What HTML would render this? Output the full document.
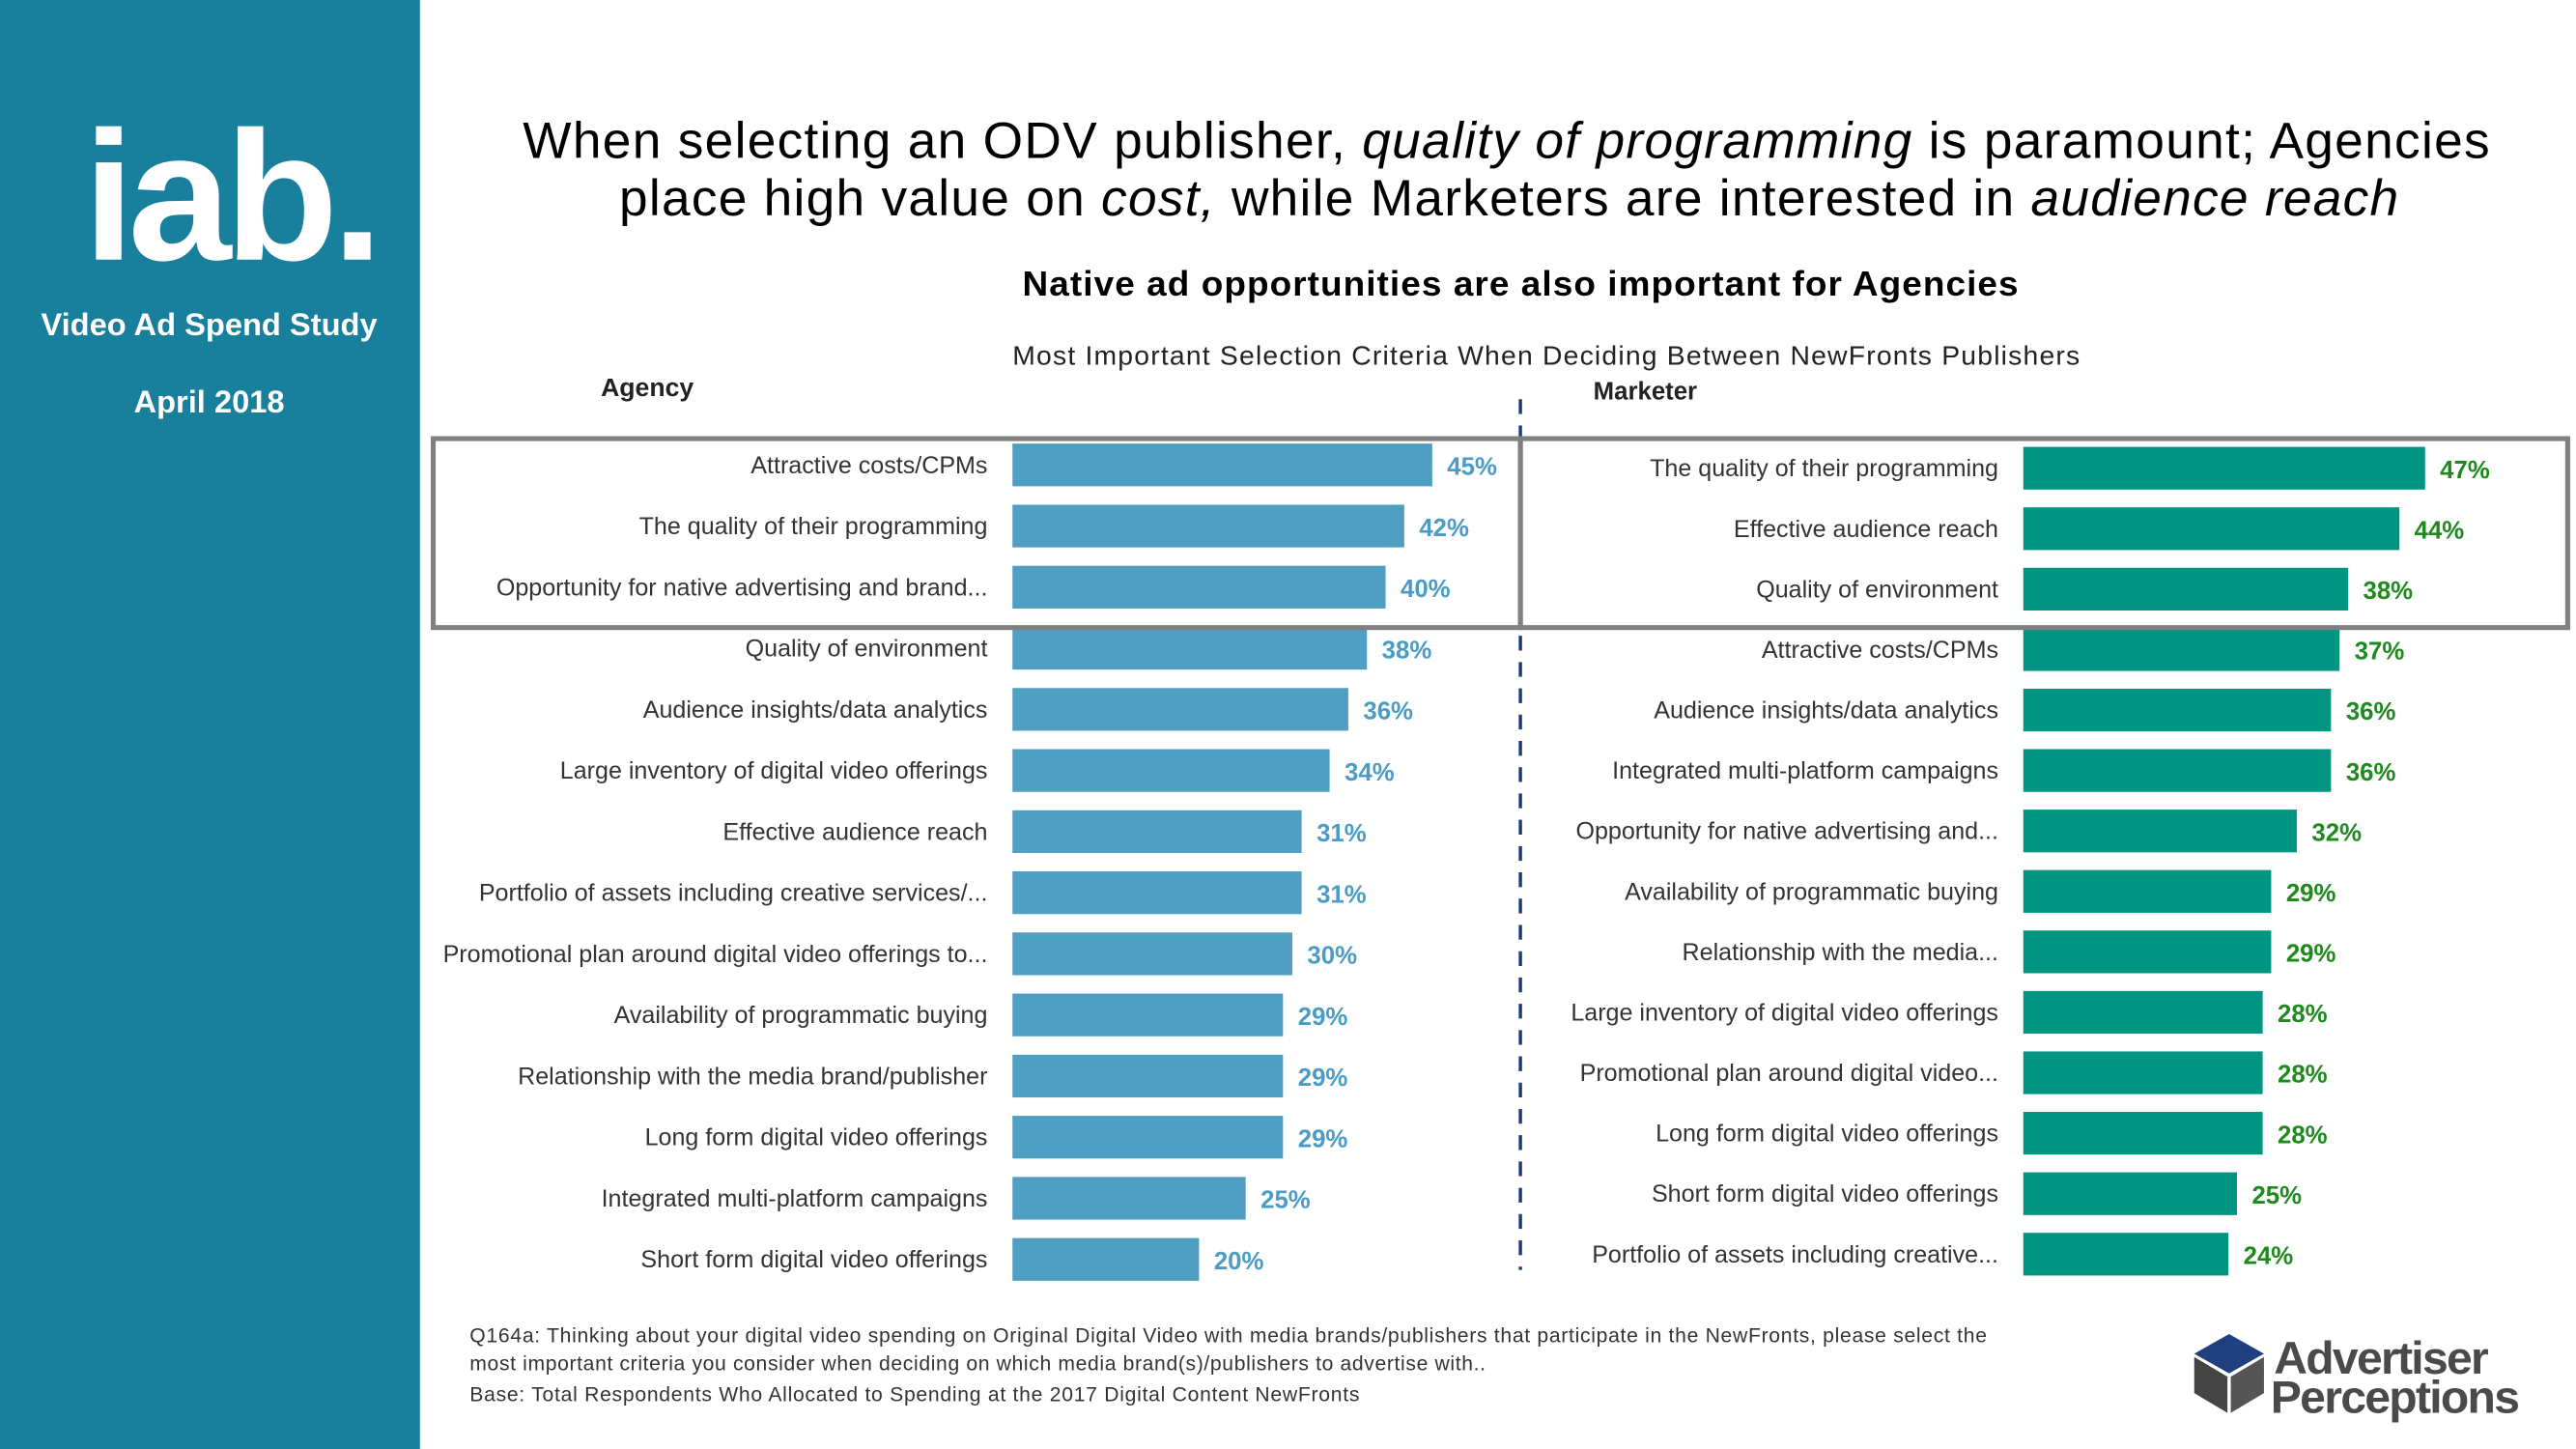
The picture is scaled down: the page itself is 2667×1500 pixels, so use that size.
<!DOCTYPE html>
<html><head><meta charset="utf-8"><style>
html,body{margin:0;padding:0;background:#fff;}
svg{display:block;font-family:"Liberation Sans",Arial,sans-serif;}
</style></head><body>
<svg id="chart" width="2667" height="1500" viewBox="0 0 1552 882" preserveAspectRatio="none" xmlns="http://www.w3.org/2000/svg">
<rect x="0" y="0" width="253" height="882" fill="#187f9c"/>
<text x="50" y="158" font-size="112" font-weight="bold" fill="#fff" letter-spacing="-4">iab.</text>
<text x="126" y="204" font-size="19" font-weight="bold" fill="#fff" text-anchor="middle">Video Ad Spend Study</text>
<text x="126" y="251" font-size="19" font-weight="bold" fill="#fff" text-anchor="middle">April 2018</text>
<text x="315" y="96" font-size="31" fill="#000" textLength="1185">When selecting an ODV publisher, <tspan font-style="italic">quality of programming</tspan> is paramount; Agencies</text>
<text x="373" y="131" font-size="31" fill="#000" textLength="1072">place high value on <tspan font-style="italic">cost,</tspan> while Marketers are interested in <tspan font-style="italic">audience reach</tspan></text>
<text x="616" y="180" font-size="21.5" font-weight="bold" fill="#000" textLength="600">Native ad opportunities are also important for Agencies</text>
<text x="610" y="222" font-size="16.5" fill="#222" textLength="643">Most Important Selection Criteria When Deciding Between NewFronts Publishers</text>
<text x="362" y="241" font-size="15.5" font-weight="bold" fill="#222">Agency</text>
<text x="960" y="243" font-size="15" font-weight="bold" fill="#222">Marketer</text>
<line x1="916" y1="243" x2="916" y2="773" stroke="#1f3a7a" stroke-width="2" stroke-dasharray="9,7"/>
<g id="bars"></g>
<rect x="261" y="267" width="655" height="115" fill="none" stroke="#808080" stroke-width="3"/>
<rect x="916" y="267" width="631" height="115" fill="none" stroke="#808080" stroke-width="3"/>
<text x="283" y="817" font-size="12.3" fill="#333" textLength="914">Q164a:  Thinking about your digital video spending on Original Digital Video with media brands/publishers that participate in the NewFronts, please select the</text>
<text x="283" y="834" font-size="12.3" fill="#333" textLength="612">most important criteria you consider when deciding on which media brand(s)/publishers to advertise with..</text>
<text x="283" y="853" font-size="12.3" fill="#333" textLength="536">Base: Total Respondents Who Allocated to Spending at the 2017 Digital Content NewFronts</text>
<g>
<polygon points="1343,812 1364,824 1343,836 1322,824" fill="#1f3f7f"/>
<polygon points="1322,826 1342,838 1342,860 1322,848" fill="#444"/>
<polygon points="1364,826 1344,838 1344,860 1364,848" fill="#555"/>
<text x="1370" y="836" font-size="28" font-weight="bold" fill="#4a4a4a" letter-spacing="-1">Advertiser</text>
<text x="1368" y="860" font-size="28" font-weight="bold" fill="#4a4a4a" letter-spacing="-1">Perceptions</text>
</g>
</svg>
<script>
const agencyCats = ["Attractive costs/CPMs","The quality of their programming","Opportunity for native advertising and brand...","Quality of environment","Audience insights/data analytics","Large inventory of digital video offerings","Effective audience reach","Portfolio of assets including creative services/...","Promotional plan around digital video offerings to...","Availability of programmatic buying","Relationship with the media brand/publisher","Long form digital video offerings","Integrated multi-platform campaigns","Short form digital video offerings"];
const agencyVals = [45,42,40,38,36,34,31,31,30,29,29,29,25,20];
const marketerCats = ["The quality of their programming","Effective audience reach","Quality of environment","Attractive costs/CPMs","Audience insights/data analytics","Integrated multi-platform campaigns","Opportunity for native advertising and...","Availability of programmatic buying","Relationship with the media...","Large inventory of digital video offerings","Promotional plan around digital video...","Long form digital video offerings","Short form digital video offerings","Portfolio of assets including creative..."];
const marketerVals = [47,44,38,37,36,36,32,29,29,28,28,28,25,24];

const NS = "http://www.w3.org/2000/svg";
const g = document.getElementById('bars');
function mk(tag, attrs){const e=document.createElementNS(NS,tag);for(const k in attrs)e.setAttribute(k,attrs[k]);return e;}
function panel(cats, vals, x0, perPct, y0, step, barColor, valColor, labelX, prefix){
  const xs = v => v*perPct;
  const yc = i => y0 + i*step;
  cats.forEach((c,i)=>{
    const y = yc(i);
    const r = mk('rect',{x:x0,y:y-13,width:xs(vals[i]),height:26,fill:barColor});
    
    
    g.appendChild(r);
    const t = mk('text',{x:labelX,y:y+5,'font-size':14.6,fill:'#333','text-anchor':'end'});
    t.textContent = c;
    
    
    g.appendChild(t);
    const v = mk('text',{x:x0+xs(vals[i])+9,y:y+6,'font-size':15,'font-weight':'bold',fill:valColor});
    v.textContent = vals[i]+'%';
    
    
    g.appendChild(v);
  });
}
panel(agencyCats, agencyVals, 610, 5.62, 283, 37.2, '#4f9fc3', '#4a9bc6', 595, 'agency');
panel(marketerCats, marketerVals, 1219, 5.15, 285, 36.8, '#009483', '#1e8a1e', 1204, 'marketer');
</script>
</body></html>
